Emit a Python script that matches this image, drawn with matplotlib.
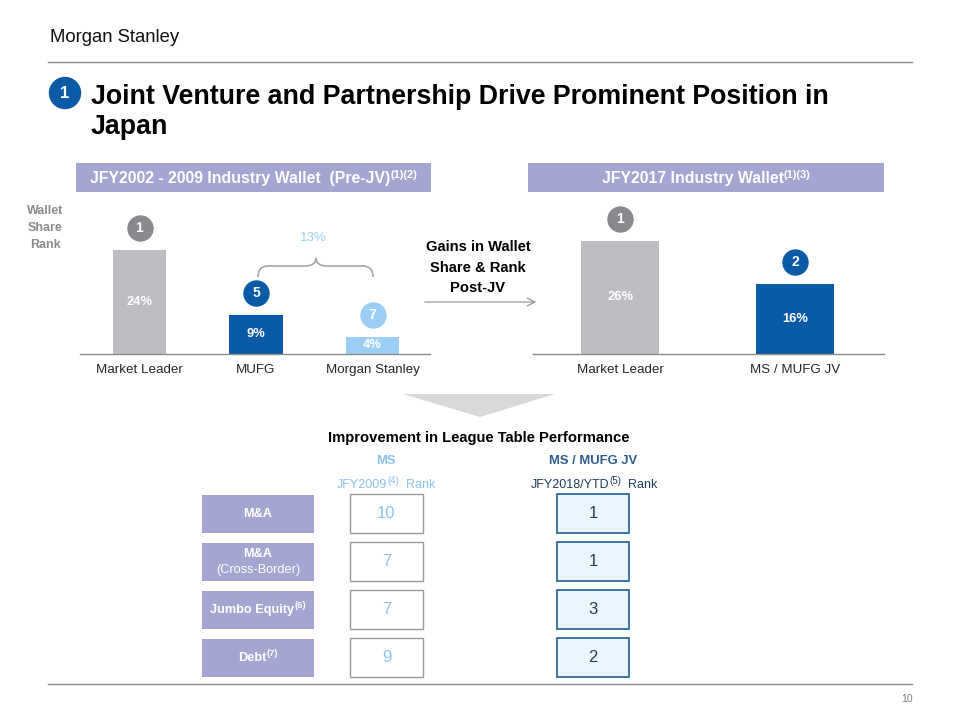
import matplotlib
matplotlib.use('Agg')
import matplotlib.pyplot as plt
from matplotlib.patches import Rectangle, Polygon, Circle, PathPatch
from matplotlib.path import Path
from matplotlib.transforms import ScaledTranslation

plt.rcParams['font.family'] = ['Liberation Sans', 'DejaVu Sans']

# ---------------- data ----------------
pre_categories = ['Market Leader', 'MUFG', 'Morgan Stanley']
pre_share = [24, 9, 4]
pre_rank = [1, 5, 7]
post_categories = ['Market Leader', 'MS / MUFG JV']
post_share = [26, 16]
post_rank = [1, 2]
combined_share_label = '13%'
league_rows = ['M&A', 'M&A (Cross-Border)', 'Jumbo Equity', 'Debt']
league_row_notes = ['', '', '(6)', '(7)']
ms_rank_2009 = [10, 7, 7, 9]
jv_rank_2018 = [1, 1, 3, 2]

# ---------------- colours ----------------
GREY_BAR = '#BDBEC2'
DARK_BLUE = '#0B5AA6'
LIGHT_BLUE = '#9DCFF6'
LAVENDER = '#A5A5D2'
CIRCLE_GREY = '#8A8A8E'
LINE_GREY = '#8C8C8C'

fig = plt.figure(figsize=(9.6, 7.2), dpi=100)
ov = fig.add_axes([0, 0, 1, 1])
ov.set_xlim(0, 960)
ov.set_ylim(720, 0)
ov.axis('off')
renderer = fig.canvas.get_renderer()


def rich(x, y, pieces, ha='center', ax=ov):
    """pieces: (text, props, rise_px). y is baseline in overlay coords."""
    arts, widths = [], []
    for s, props, rise in pieces:
        t = ax.text(0, 0, s, va='baseline', ha='left', **props)
        widths.append(t.get_window_extent(renderer).width)
        arts.append((t, rise))
    total = sum(widths)
    x0 = x - total / 2 if ha == 'center' else x
    for (t, rise), w in zip(arts, widths):
        t.set_position((x0, y - rise))
        x0 += w


# ---------------- header ----------------
ov.text(50, 37, 'Morgan Stanley', fontsize=13.3, color='#111111', va='center', ha='left')
ov.plot([48, 912], [62, 62], color='#8C8C8C', lw=1)
ov.plot([48, 912], [684, 684], color='#8C8C8C', lw=1)
ov.text(907, 699, '10', fontsize=7.5, color='#7F7F7F', ha='center', va='center')

ov.add_patch(Circle((65, 93), 15.5, color='#0B5AA6', zorder=3))
ov.text(65, 93.5, '1', color='white', fontsize=12, fontweight='bold', ha='center', va='center', zorder=4)
ov.text(91, 104, 'Joint Venture and Partnership Drive Prominent Position in',
        fontsize=19.3, fontweight='bold', color='black', ha='left', va='baseline')
ov.text(91, 134, 'Japan', fontsize=19.3, fontweight='bold', color='black', ha='left', va='baseline')

# section bands
ov.add_patch(Rectangle((76, 163), 355, 29, color=LAVENDER, lw=0))
ov.add_patch(Rectangle((528, 163), 356, 29, color=LAVENDER, lw=0))
hb = dict(fontsize=11.4, fontweight='bold', color='white')
hs = dict(fontsize=8, fontweight='bold', color='white')
rich(253.5, 183, [('JFY2002 - 2009 Industry Wallet  (Pre-JV)', hb, 0), ('(1)(2)', hs, 5)])
rich(706, 183, [('JFY2017 Industry Wallet', hb, 0), ('(1)(3)', hs, 5)])

# wallet share rank label
for yy, s in zip([211, 228, 245], ['Wallet', 'Share', 'Rank']):
    ov.text(45, yy, s, fontsize=9, fontweight='bold', color='#8C8C8C', ha='center', va='center')

# ---------------- bar charts ----------------
PX_PER_PCT = 4.35
BASE_Y = 354
AX_H = 154


def make_bar_ax(px_left, px_right, first_center, spacing):
    ax = fig.add_axes([px_left / 960, (720 - BASE_Y) / 720,
                       (px_right - px_left) / 960, AX_H / 720])
    ax.set_xlim((px_left - first_center) / spacing, (px_right - first_center) / spacing)
    ax.set_ylim(0, AX_H / PX_PER_PCT)
    ax.patch.set_alpha(0)
    for sp in ['top', 'right', 'left']:
        ax.spines[sp].set_visible(False)
    ax.spines['bottom'].set_color(LINE_GREY)
    ax.spines['bottom'].set_linewidth(1)
    ax.set_yticks([])
    ax.tick_params(axis='x', length=0, pad=7.5, labelsize=9.6, labelcolor='#262626')
    return ax


def draw_bars(ax, cats, vals, ranks, colors, circ_colors, width):
    x = list(range(len(cats)))
    ax.bar(x, vals, width=width, color=colors, zorder=2)
    ax.set_xticks(x)
    ax.set_xticklabels(cats)
    tr = ax.transData + ScaledTranslation(0, 0.22, fig.dpi_scale_trans)
    for i, (v, r, cc) in enumerate(zip(vals, ranks, circ_colors)):
        ax.text(i, v / 2, f'{v}%', color='white', fontsize=9.3, fontweight='bold',
                ha='center', va='center', zorder=3)
        ax.plot([i], [v], marker='o', ms=18, color=cc, mec=cc, transform=tr,
                clip_on=False, zorder=4)
        ax.text(i, v, str(r), color='white', fontsize=10, fontweight='bold',
                ha='center', va='center', transform=tr, clip_on=False, zorder=5)


ax1 = make_bar_ax(80, 430, 139.5, 116.5)
draw_bars(ax1, pre_categories, pre_share, pre_rank,
          [GREY_BAR, DARK_BLUE, LIGHT_BLUE], [CIRCLE_GREY, DARK_BLUE, LIGHT_BLUE], 0.455)

ax2 = make_bar_ax(533, 884, 620, 175)
draw_bars(ax2, post_categories, post_share, post_rank,
          [GREY_BAR, DARK_BLUE], [CIRCLE_GREY, DARK_BLUE], 0.45)

# brace + combined share
verts = [(258, 277), (258, 266), (268, 266), (305, 266), (316, 266), (316, 258),
         (316, 266), (327, 266), (363, 266), (373, 266), (373, 277)]
codes = [Path.MOVETO, Path.CURVE3, Path.CURVE3, Path.LINETO, Path.CURVE3, Path.CURVE3,
         Path.CURVE3, Path.CURVE3, Path.LINETO, Path.CURVE3, Path.CURVE3]
ov.add_patch(PathPatch(Path(verts, codes), fill=False, edgecolor='#A6A6A6', lw=1.2))
ov.text(313, 238, combined_share_label, color=LIGHT_BLUE, fontsize=9.5, ha='center', va='center')

# middle annotation
for yy, s in zip([247, 268, 288], ['Gains in Wallet', 'Share & Rank', 'Post-JV']):
    ov.text(478, yy, s, fontsize=10.6, fontweight='bold', color='black', ha='center', va='center')
ov.annotate('', xy=(539, 302), xytext=(422, 302),
            arrowprops=dict(arrowstyle='->', color='#8C8C8C', lw=0.8, mutation_scale=14))

# chevron
ov.add_patch(Polygon([(403, 394), (555, 394), (480, 417)], closed=True, color='#D9D9D9', lw=0))

# ---------------- league table ----------------
ov.text(479, 438, 'Improvement in League Table Performance', fontsize=10.6, fontweight='bold',
        color='black', ha='center', va='center')
ov.text(386, 461, 'MS', fontsize=9.4, fontweight='bold', color='#8CC2EE', ha='center', va='center')
ov.text(593, 461, 'MS / MUFG JV', fontsize=9.4, fontweight='bold', color='#2E5F8E', ha='center', va='center')
sb1 = dict(fontsize=9, color='#8CC2EE')
ss1 = dict(fontsize=7, color='#8CC2EE')
rich(386, 488, [('JFY2009', sb1, 0), ('(4)', ss1, 4.5), ('  Rank', sb1, 0)])
sb2 = dict(fontsize=9, color='#1F3F5F')
ss2 = dict(fontsize=7, color='#1F3F5F')
rich(594, 488, [('JFY2018/YTD', sb2, 0), ('(5)', ss2, 4.5), ('  Rank', sb2, 0)])

ROW0 = 513.5
ROW_STEP = 48
BOX_H = 38
lb = dict(fontsize=9.2, fontweight='bold', color='white')
ls = dict(fontsize=6.8, fontweight='bold', color='white')
for i, (lab, note, a, b) in enumerate(zip(league_rows, league_row_notes, ms_rank_2009, jv_rank_2018)):
    yc = ROW0 + ROW_STEP * i
    ov.add_patch(Rectangle((202, yc - BOX_H / 2), 112, BOX_H, color=LAVENDER, lw=0))
    if '(' in lab and not note:
        main, sub = lab.split(' ', 1)
        ov.text(258, yc - 7.5, main, ha='center', va='center', **lb)
        ov.text(258, yc + 9, sub, ha='center', va='center', fontsize=9.2, color='white')
    else:
        pieces = [(lab, lb, 0)]
        if note:
            pieces.append((note, ls, 4.5))
        rich(258, yc + 3.5, pieces)
    ov.add_patch(Rectangle((350, yc - BOX_H / 2 - 0.5), 73, BOX_H + 1, facecolor='white',
                           edgecolor='#9A9A9A', lw=1))
    ov.text(386.5, yc, str(a), fontsize=12, color='#8CC2EE', ha='center', va='center')
    ov.add_patch(Rectangle((557, yc - BOX_H / 2 - 0.5), 72, BOX_H + 1, facecolor='#EAF5FD',
                           edgecolor='#1F5F8F', lw=1.2))
    ov.text(593, yc, str(b), fontsize=12, color='#1F3F5F', ha='center', va='center')

fig.savefig('out.png', dpi=100)
